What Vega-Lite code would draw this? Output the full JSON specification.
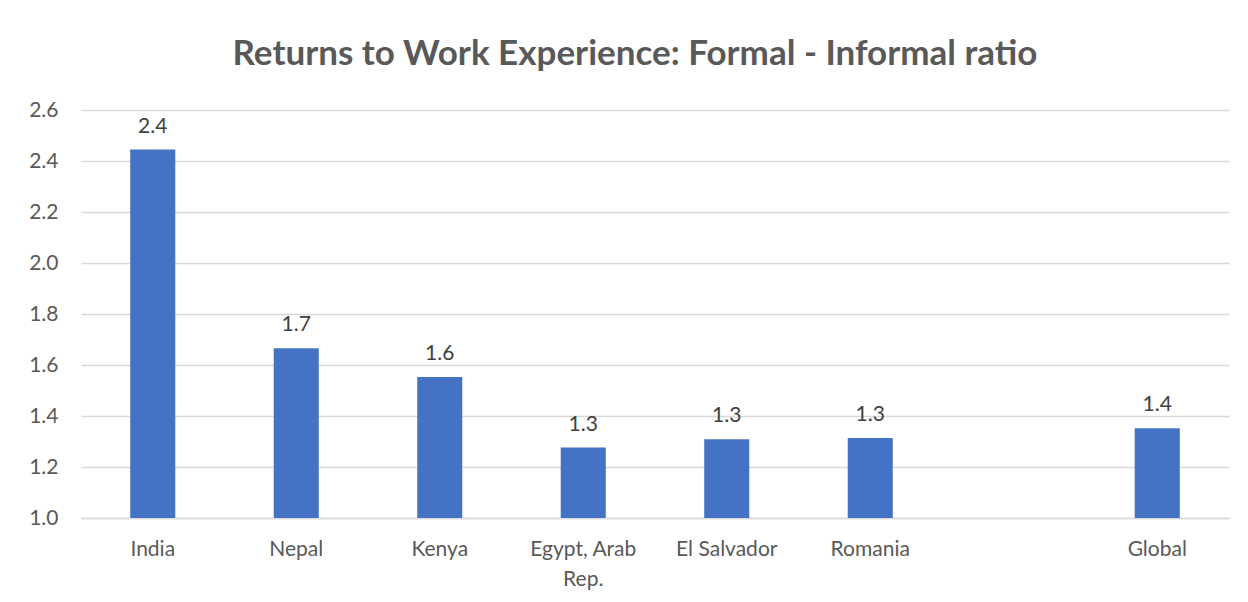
{
  "$schema": "https://vega.github.io/schema/vega-lite/v6.json",
  "width": 1148,
  "height": 408,
  "autosize": {"type": "none"},
  "padding": {"left": 81, "top": 110, "right": 19, "bottom": 84},
  "background": "white",
  "config": {
    "view": {"stroke": null},
    "font": "Lato"
  },
  "title": {
    "text": "Returns to Work Experience: Formal - Informal ratio",
    "font": "Lato",
    "fontSize": 35,
    "fontWeight": "bold",
    "color": "#595959",
    "anchor": "middle",
    "dx": -20,
    "offset": 27
  },
  "data": {
    "values": [
      {"country": "India", "ratio": 2.445},
      {"country": "Nepal", "ratio": 1.666},
      {"country": "Kenya", "ratio": 1.553},
      {"country": "Egypt, Arab Rep.", "ratio": 1.276},
      {"country": "El Salvador", "ratio": 1.309},
      {"country": "Romania", "ratio": 1.314},
      {"country": "Global", "ratio": 1.352}
    ]
  },
  "encoding": {
    "x": {
      "field": "country",
      "type": "nominal",
      "sort": null,
      "scale": {
        "domain": ["India", "Nepal", "Kenya", "Egypt, Arab Rep.", "El Salvador", "Romania", " ", "Global"],
        "paddingInner": 0.686,
        "paddingOuter": 0.343
      },
      "axis": {
        "title": null,
        "labelAngle": 0,
        "labelFontSize": 21,
        "labelColor": "#595959",
        "labelPadding": 20,
        "labelLineHeight": 30,
        "ticks": false,
        "domainColor": "#d9d9d9",
        "domainWidth": 1.5,
        "labelExpr": "datum.value == 'Egypt, Arab Rep.' ? ['Egypt, Arab', 'Rep.'] : datum.value"
      }
    },
    "y": {
      "field": "ratio",
      "type": "quantitative",
      "scale": {"domain": [1.0, 2.6], "zero": false, "nice": false},
      "axis": {
        "title": null,
        "values": [1.0, 1.2, 1.4, 1.6, 1.8, 2.0, 2.2, 2.4, 2.6],
        "format": ".1f",
        "labelFontSize": 21,
        "labelColor": "#595959",
        "labelPadding": 23,
        "ticks": false,
        "domain": false,
        "gridColor": "#d9d9d9",
        "gridWidth": 1.5
      }
    }
  },
  "layer": [
    {
      "mark": {"type": "bar", "color": "#4472C4"},
      "encoding": {"y2": {"datum": 1.0}}
    },
    {
      "mark": {"type": "text", "baseline": "bottom", "dy": -13, "fontSize": 21, "color": "#404040"},
      "encoding": {"text": {"field": "ratio", "type": "quantitative", "format": ".1f"}}
    }
  ]
}
